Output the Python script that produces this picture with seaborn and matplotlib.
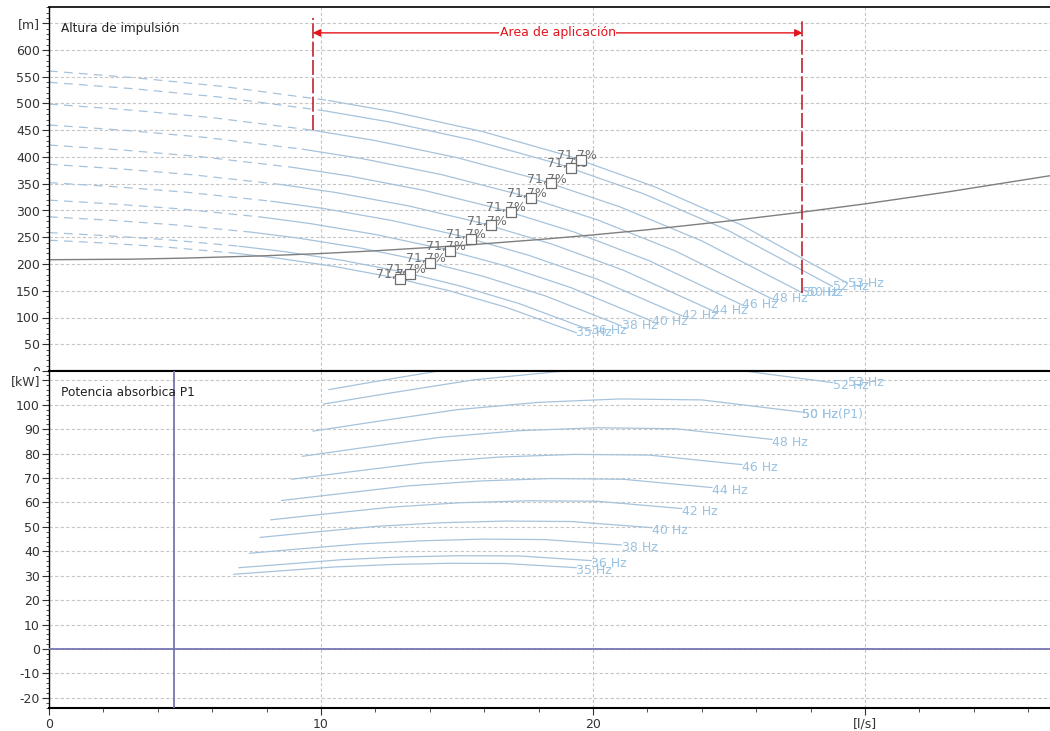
import matplotlib
matplotlib.use("Agg")
import matplotlib.pyplot as plt
import seaborn as sns
from matplotlib.ticker import MultipleLocator, FixedLocator, FixedFormatter
from matplotlib.transforms import Bbox, TransformedBbox

sns.set_theme(style="white")
plt.rcParams["font.family"] = ["DejaVu Sans"]

# ---- pump curves at each drive frequency ---------------------------------
freqs = [53, 52, 50, 48, 46, 44, 42, 40, 38, 36, 35]

# flow points [l/s]; the first three lie outside the allowed range (dashed)
flow = [
    [0, 3.18, 6.36, 10.28, 12.72, 15.90, 19.08, 22.26, 25.44, 29.36],
    [0, 3.12, 6.24, 10.09, 12.48, 15.60, 18.72, 21.84, 24.96, 28.81],
    [0, 3.00, 6.00, 9.70, 12.00, 15.00, 18.00, 21.00, 24.00, 27.70],
    [0, 2.88, 5.76, 9.31, 11.52, 14.40, 17.28, 20.16, 23.04, 26.59],
    [0, 2.76, 5.52, 8.92, 11.04, 13.80, 16.56, 19.32, 22.08, 25.48],
    [0, 2.64, 5.28, 8.54, 10.56, 13.20, 15.84, 18.48, 21.12, 24.38],
    [0, 2.52, 5.04, 8.15, 10.08, 12.60, 15.12, 17.64, 20.16, 23.27],
    [0, 2.40, 4.80, 7.76, 9.60, 12.00, 14.40, 16.80, 19.20, 22.16],
    [0, 2.28, 4.56, 7.37, 9.12, 11.40, 13.68, 15.96, 18.24, 21.05],
    [0, 2.16, 4.32, 6.98, 8.64, 10.80, 12.96, 15.12, 17.28, 19.94],
    [0, 2.10, 4.20, 6.79, 8.40, 10.50, 12.60, 14.70, 16.80, 19.39],
]

# head [m] at the flow points above
head = [
    [560.7, 548.0, 532.1, 505.6, 483.9, 448.1, 402.2, 344.5, 273.3, 164.0],
    [539.7, 527.5, 512.2, 486.7, 465.8, 431.3, 387.2, 331.6, 263.0, 157.9],
    [499.0, 487.7, 473.6, 450.0, 430.7, 398.8, 358.0, 306.6, 243.2, 146.0],
    [459.9, 449.5, 436.5, 414.7, 396.9, 367.5, 329.9, 282.6, 224.1, 134.6],
    [422.4, 412.8, 400.9, 380.9, 364.5, 337.5, 303.0, 259.5, 205.8, 123.6],
    [386.4, 377.7, 366.8, 348.5, 333.5, 308.8, 277.2, 237.4, 188.3, 113.1],
    [352.1, 344.1, 334.2, 317.5, 303.9, 281.4, 252.6, 216.3, 171.6, 103.0],
    [319.4, 312.1, 303.1, 288.0, 275.6, 255.2, 229.1, 196.2, 155.6, 93.4],
    [288.2, 281.7, 273.5, 259.9, 248.8, 230.3, 206.8, 177.1, 140.5, 84.3],
    [258.7, 252.8, 245.5, 233.3, 223.3, 206.7, 185.6, 158.9, 126.1, 75.7],
    [244.5, 239.0, 232.1, 220.5, 211.0, 195.4, 175.4, 150.2, 119.2, 71.5],
]

# absorbed power P1 [kW] over the allowed flow points (flow[3:])
power = [
    [106.2, 110.9, 116.7, 120.3, 122.0, 121.5, 115.5],
    [100.3, 104.7, 110.2, 113.6, 115.2, 114.7, 109.1],
    [89.2, 93.1, 98.0, 101.0, 102.4, 102.0, 97.0],
    [78.9, 82.4, 86.7, 89.4, 90.6, 90.2, 85.8],
    [69.5, 72.5, 76.3, 78.6, 79.7, 79.4, 75.5],
    [60.8, 63.4, 66.8, 68.8, 69.8, 69.5, 66.1],
    [52.9, 55.2, 58.1, 59.9, 60.7, 60.5, 57.5],
    [45.7, 47.7, 50.2, 51.7, 52.4, 52.2, 49.7],
    [39.2, 40.9, 43.0, 44.3, 45.0, 44.8, 42.6],
    [33.3, 34.7, 36.6, 37.7, 38.2, 38.1, 36.2],
    [30.6, 31.9, 33.6, 34.6, 35.1, 35.0, 33.3],
]

# best efficiency points
bep_flow = [19.56, 19.19, 18.45, 17.71, 16.97, 16.24, 15.50, 14.76, 14.02, 13.28, 12.92]
bep_head = [395, 380, 351, 324, 297, 272, 247, 224, 202, 182, 172]
bep_text = "71,7%"

# system curve
sys_flow = [0, 3, 5, 8, 10, 12, 15, 18, 20, 22, 25, 27.7, 30, 33, 36.8]
sys_head = [208, 209, 211, 215.5, 219.6, 224.7, 234, 245.6, 254.4, 264, 280.5, 297, 312.4, 334.4, 365]

# application range of the 50 Hz curve
app_flow = [9.7, 27.7]
app_head = [450, 146]
app_top = 660
app_arrow_y = 632
app_title = "Area de aplicación"

op_flow = 4.6

x_ticks = [0, 10, 20, 30]
x_labels = ["0", "10", "20", "[l/s]"]
h_ticks = [0, 50, 100, 150, 200, 250, 300, 350, 400, 450, 500, 550, 600, 650]
h_labels = ["0", "50", "100", "150", "200", "250", "300", "350", "400", "450",
            "500", "550", "600", "[m]"]
p_ticks = [-20, -10, 0, 10, 20, 30, 40, 50, 60, 70, 80, 90, 100, 110]
p_labels = ["-20", "-10", "0", "10", "20", "30", "40", "50", "60", "70", "80",
            "90", "100", "[kW]"]

# ---- styling --------------------------------------------------------------
CURVE = "#a6c3dc"
CURVE_TXT = "#98c2e2"
GRID = "#c6c6c6"
RED = "#e3141b"
DARKRED = "#c0242c"
OPLINE = "#7676b2"
GRAY_TXT = "#6e6e6e"

fig = plt.figure(figsize=(10.5, 7.31), dpi=100)
left = 49 / 1050
ax_top = fig.add_axes([left, 1 - 371 / 731, 1 - left, 364 / 731])
ax_bot = fig.add_axes([left, 1 - 708 / 731, 1 - left, 337 / 731])

xmax = 1001 / 27.2
for ax in (ax_top, ax_bot):
    ax.set_xlim(0, xmax)
    ax.set_facecolor("white")
    ax.xaxis.set_major_locator(FixedLocator(x_ticks))
    ax.xaxis.set_minor_locator(MultipleLocator(2))
    ax.grid(True, which="major", color=GRID, lw=0.8, ls=(0, (3, 2)))
    ax.spines["right"].set_visible(False)
    for s in ("left", "top", "bottom"):
        ax.spines[s].set_color("black")
    ax.tick_params(axis="y", which="major", direction="out", length=5, width=0.8,
                   labelsize=9, colors="#333333", pad=1.5, left=True)
    ax.tick_params(axis="y", which="minor", direction="out", length=2.5, width=0.6,
                   left=True, color="#333333")
    ax.set_xlabel("")
    ax.set_ylabel("")

# ---- top panel: head ------------------------------------------------------
ax_top.set_ylim(0, 364 / 0.535)
ax_top.yaxis.set_major_locator(FixedLocator(h_ticks))
ax_top.yaxis.set_major_formatter(FixedFormatter(h_labels))
ax_top.yaxis.set_minor_locator(MultipleLocator(10))
ax_top.tick_params(axis="x", which="both", length=0, labelbottom=False)
ax_top.spines["top"].set_linewidth(1.2)
ax_top.spines["left"].set_linewidth(1.0)
ax_top.spines["bottom"].set_linewidth(1.5)

for i, f in enumerate(freqs):
    q = flow[i]
    h = head[i]
    sns.lineplot(x=q[:4], y=h[:4], ax=ax_top, color=CURVE, lw=0.9,
                 linestyle=(0, (7, 5)), sort=False, estimator=None, legend=False)
    sns.lineplot(x=q[3:], y=h[3:], ax=ax_top, color=CURVE, lw=0.9,
                 sort=False, estimator=None, legend=False)
    ax_top.annotate(f"{f} Hz", (q[-1], h[-1]), xytext=(0, 0), textcoords="offset points",
                    ha="left", va="center", fontsize=9, color=CURVE_TXT)
    if f == 50:
        ax_top.annotate(f"{f} Hz", (q[-1], h[-1]), xytext=(3, 0), textcoords="offset points",
                        ha="left", va="center", fontsize=9, color=CURVE_TXT)

sns.lineplot(x=sys_flow, y=sys_head, ax=ax_top, color="#7f7f7f", lw=1.0,
             sort=False, estimator=None, legend=False)

for q, h in zip(bep_flow, bep_head):
    ax_top.annotate(bep_text, (q, h), xytext=(-3, 3), textcoords="offset points",
                    ha="center", va="center", fontsize=9, color=GRAY_TXT, zorder=4)
sns.scatterplot(x=bep_flow, y=bep_head, ax=ax_top, marker="s", s=55,
                facecolor="white", edgecolor=GRAY_TXT, linewidth=0.9, zorder=5,
                legend=False)

# application range marks
for q, h in zip(app_flow, app_head):
    ax_top.plot([q, q], [h, app_top], color=DARKRED, lw=1.2, ls=(0, (9, 2)), zorder=6)
ax_top.annotate("", xy=(app_flow[0], app_arrow_y), xytext=(app_flow[1], app_arrow_y),
                arrowprops=dict(arrowstyle="<|-|>", color=RED, lw=1.0,
                                mutation_scale=11, shrinkA=0, shrinkB=0), zorder=6)
ax_top.text(sum(app_flow) / 2, app_arrow_y, app_title, ha="center", va="center",
            fontsize=9, color=RED, zorder=7,
            bbox=dict(facecolor="white", edgecolor="none", pad=0.5))

ax_top.text(0.012, 0.94, "Altura de impulsión", transform=ax_top.transAxes,
            ha="left", va="center", fontsize=8.7, color="#222222")

# ---- bottom panel: power --------------------------------------------------
p_lo = -(708 - 649) / 2.442
p_hi = (649 - 371) / 2.442
ax_bot.set_ylim(p_lo, p_hi)
ax_bot.yaxis.set_major_locator(FixedLocator(p_ticks))
ax_bot.yaxis.set_major_formatter(FixedFormatter(p_labels))
ax_bot.yaxis.set_minor_locator(MultipleLocator(2))
ax_bot.xaxis.set_major_formatter(FixedFormatter(x_labels))
ax_bot.tick_params(axis="x", which="major", direction="out", length=5, width=0.8,
                   labelsize=9, colors="#333333", pad=2, bottom=True)
ax_bot.tick_params(axis="x", which="minor", direction="out", length=3, width=0.6,
                   bottom=True, color="#333333")
ax_bot.spines["top"].set_linewidth(1.5)
ax_bot.spines["bottom"].set_linewidth(1.5)
ax_bot.spines["left"].set_linewidth(1.0)

for i, f in enumerate(freqs):
    q = flow[i][3:]
    p = power[i]
    sns.lineplot(x=q, y=p, ax=ax_bot, color=CURVE, lw=0.9, sort=False,
                 estimator=None, legend=False)
    y_lab = min(p[-1], p_hi - 3.5)
    ax_bot.annotate(f"{f} Hz", (q[-1], y_lab), xytext=(0, -2), textcoords="offset points",
                    ha="left", va="center", fontsize=9, color=CURVE_TXT, annotation_clip=False)
    if f == 50:
        ax_bot.annotate(f"{f} Hz(P1)", (q[-1], y_lab), xytext=(0, -2),
                        textcoords="offset points", ha="left", va="center",
                        fontsize=9, color=CURVE_TXT)

ax_bot.axvline(op_flow, color=OPLINE, lw=1.3, zorder=3)
ax_bot.axhline(0, color=OPLINE, lw=1.3, zorder=3)

ax_bot.text(0.012, 0.935, "Potencia absorbica P1", transform=ax_bot.transAxes,
            ha="left", va="center", fontsize=8.7, color="#222222", zorder=4)

# the zero label of the head axis is partly hidden by the power panel
fig.canvas.draw()
clip = TransformedBbox(Bbox([[0, 1 - 371 / 731], [1, 1]]), fig.transFigure)
for lab in ax_top.get_yticklabels():
    if lab.get_text() == "0":
        lab.set_clip_box(clip)
        lab.set_clip_on(True)

fig.savefig("out.png", dpi=100, facecolor="white")
